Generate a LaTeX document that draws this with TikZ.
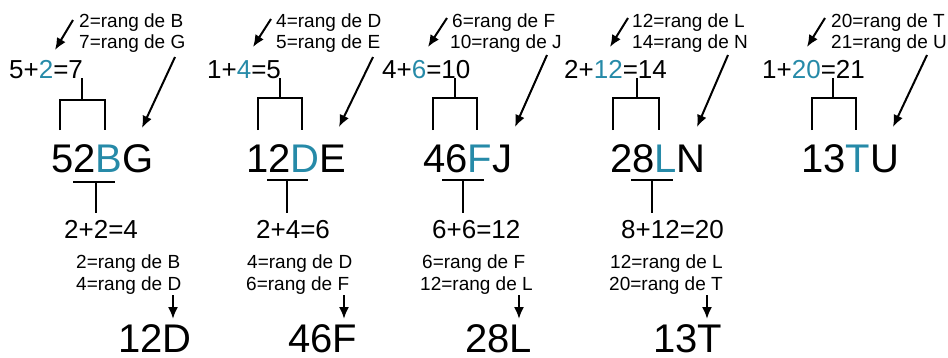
\documentclass[tikz,border=0pt]{standalone}
\usepackage{fontspec}
\setmainfont{Liberation Sans}
\usetikzlibrary{arrows.meta,positioning}
\definecolor{rangblue}{RGB}{38,138,168}
\newcommand{\rb}[1]{\textcolor{rangblue}{#1}}
\tikzset{
  note/.style={font=\fontsize{19}{22}\selectfont,anchor=base west,inner sep=0pt},
  sum/.style={font=\fontsize{26}{30}\selectfont,anchor=base west,inner sep=0pt},
  word/.style={font=\fontsize{40}{44}\selectfont,anchor=base west,inner sep=0pt,text depth=0pt},
  line/.style={line width=2pt},
  arr/.style={line width=2pt,-{Latex[length=12pt,width=10pt]}}
}

\begin{document}
\begin{tikzpicture}[x=1pt,y=-1pt]
      \useasboundingbox (0,0) rectangle (948,357);
      % group B
      \node (n1a) [note] at (79,27) {2=rang de B};
      \node (n1b) [note] at (79,48) {7=rang de G};
      \node (s1) [sum] at (9,78) {5+\rb{2}=7};
      \node (w1) [word] at (51,172) {52\rb{B}G};
      \node (t1) [sum] at (64,238) {2+2=4};
      \node (m1a) [note] at (76,268) {2=rang de B};
      \node (m1b) [note] at (76,290) {4=rang de D};
      \node (f1) [word] at (118,352) {12D};
      \coordinate (p1) at (73,20); \coordinate (q1) at (55,50);
      \coordinate (u1) at (175,57); \coordinate (v1) at (142,128);
      \coordinate (d1) at (173,295); \coordinate (e1) at (173,319);
      \draw[arr] (p1) -- (q1);
      \draw[arr] (u1) -- (v1);
      \draw[line] (82,78) -- (82,100);
      \draw[line] (60,130) -- (60,100) -- (105,100) -- (105,130);
      \draw[line] (73,182) -- (115,182);
      \draw[line] (96,182) -- (96,213);
      \draw[arr] (d1) -- (e1);
      % group D
      \node (n2a) [note] at (276,27) {4=rang de D};
      \node (n2b) [note] at (276,48) {5=rang de E};
      \node (s2) [sum] at (207,78) {1+\rb{4}=5};
      \node (w2) [word] at (246,172) {12\rb{D}E};
      \node (t2) [sum] at (256,238) {2+4=6};
      \node (m2a) [note] at (247,268) {4=rang de D};
      \node (m2b) [note] at (246,290) {6=rang de F};
      \node (f2) [word] at (288,352) {46F};
      \coordinate (p2) at (271,19); \coordinate (q2) at (253,47);
      \coordinate (u2) at (373,57); \coordinate (v2) at (339,127);
      \coordinate (d2) at (344,295); \coordinate (e2) at (344,319);
      \draw[arr] (p2) -- (q2);
      \draw[arr] (u2) -- (v2);
      \draw[line] (280,78) -- (280,98);
      \draw[line] (258,130) -- (258,98) -- (302,98) -- (302,130);
      \draw[line] (267,180) -- (308,180);
      \draw[line] (287,180) -- (287,213);
      \draw[arr] (d2) -- (e2);
      % group F
      \node (n3a) [note] at (452,27) {6=rang de F};
      \node (n3b) [note] at (450,48) {10=rang de J};
      \node (s3) [sum] at (382,78) {4+\rb{6}=10};
      \node (w3) [word] at (423,172) {46\rb{F}J};
      \node (t3) [sum] at (432,238) {6+6=12};
      \node (m3a) [note] at (422,268) {6=rang de F};
      \node (m3b) [note] at (420,290) {12=rang de L};
      \node (f3) [word] at (465,352) {28L};
      \coordinate (p3) at (447,18); \coordinate (q3) at (428,47);
      \coordinate (u3) at (547,55); \coordinate (v3) at (515,127);
      \coordinate (d3) at (519,295); \coordinate (e3) at (519,319);
      \draw[arr] (p3) -- (q3);
      \draw[arr] (u3) -- (v3);
      \draw[line] (455,78) -- (455,98);
      \draw[line] (433,130) -- (433,98) -- (477,98) -- (477,130);
      \draw[line] (442,180) -- (484,180);
      \draw[line] (463,180) -- (463,213);
      \draw[arr] (d3) -- (e3);
      % group L
      \node (n4a) [note] at (632,27) {12=rang de L};
      \node (n4b) [note] at (632,48) {14=rang de N};
      \node (s4) [sum] at (564,78) {2+\rb{12}=14};
      \node (w4) [word] at (610,172) {28\rb{L}N};
      \node (t4) [sum] at (621,238) {8+12=20};
      \node (m4a) [note] at (610,268) {12=rang de L};
      \node (m4b) [note] at (609,290) {20=rang de T};
      \node (f4) [word] at (653,352) {13T};
      \coordinate (p4) at (628,18); \coordinate (q4) at (610,47);
      \coordinate (u4) at (728,55); \coordinate (v4) at (697,127);
      \coordinate (d4) at (707,295); \coordinate (e4) at (707,319);
      \draw[arr] (p4) -- (q4);
      \draw[arr] (u4) -- (v4);
      \draw[line] (637,78) -- (637,98);
      \draw[line] (613,130) -- (613,98) -- (659,98) -- (659,130);
      \draw[line] (631,180) -- (673,180);
      \draw[line] (652,180) -- (652,213);
      \draw[arr] (d4) -- (e4);
      % group T
      \node (n5a) [note] at (831,27) {20=rang de T};
      \node (n5b) [note] at (831,48) {21=rang de U};
      \node (s5) [sum] at (762,78) {1+\rb{20}=21};
      \node (w5) [word] at (801,172) {13\rb{T}U};
      \coordinate (p5) at (825,18); \coordinate (q5) at (807,47);
      \coordinate (u5) at (927,55); \coordinate (v5) at (893,127);
      \draw[arr] (p5) -- (q5);
      \draw[arr] (u5) -- (v5);
      \draw[line] (833,78) -- (833,98);
      \draw[line] (812,130) -- (812,98) -- (856,98) -- (856,130);
    \end{tikzpicture}
\end{document}
